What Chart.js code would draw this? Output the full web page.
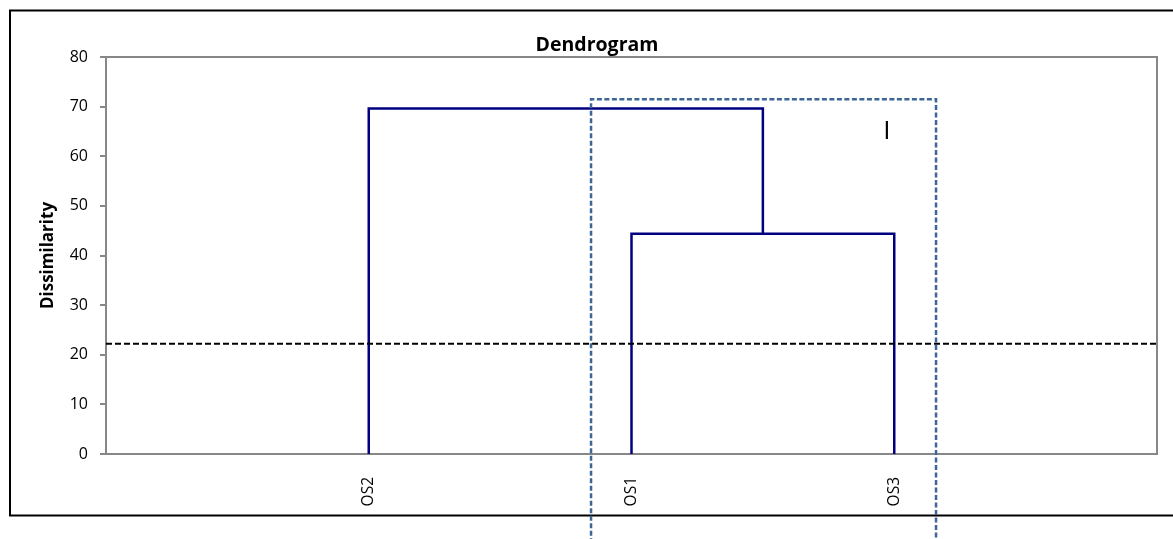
<!DOCTYPE html>
<html><head><meta charset="utf-8">
<script src="https://cdn.jsdelivr.net/npm/chart.js@4.4.0/dist/chart.umd.min.js"></script>
<style>html,body{margin:0;padding:0;background:#fff;overflow:hidden}#wrap{width:1173px;height:539px;position:relative}</style>
</head><body><div id="wrap"><canvas id="c" width="1173" height="539"></canvas></div>
<script>
// ---- data ----
const categories = ['OS2', 'OS1', 'OS3'];
const leafPositions = [1, 2, 3];
const mergeHeights = [44.4, 69.6];      // (OS1,OS3) then (OS2,(OS1,OS3))
const cutLevel = 22.2;
const yTicks = [0, 10, 20, 30, 40, 50, 60, 70, 80];
const xRange = [0, 4];
const clusterBoxX = [1.846, 3.159];
const clusterBoxY = [-18, 71.5];
const clusterLabel = 'I';
const clusterLabelPos = [2.972, 63.5];
const titleText = 'Dendrogram';
const yAxisTitle = 'Dissimilarity';

// ---- build dendrogram links ----
const h0 = mergeHeights[0], h1 = mergeHeights[1];
const mid0 = (leafPositions[1] + leafPositions[2]) / 2;
const linkA = [
  {x: leafPositions[1], y: 0}, {x: leafPositions[1], y: h0},
  {x: leafPositions[2], y: h0}, {x: leafPositions[2], y: 0}
];
const linkB = [
  {x: leafPositions[0], y: 0}, {x: leafPositions[0], y: h1},
  {x: mid0, y: h1}, {x: mid0, y: h0}
];
const cutLine = [{x: xRange[0], y: cutLevel}, {x: xRange[1], y: cutLevel}];
const box = [
  {x: clusterBoxX[0], y: clusterBoxY[0]}, {x: clusterBoxX[0], y: clusterBoxY[1]},
  {x: clusterBoxX[1], y: clusterBoxY[1]}, {x: clusterBoxX[1], y: clusterBoxY[0]}
];

const FONT = "'Open Sans', 'Liberation Sans', sans-serif";
const NAVY = '#000080';
const GRAY = '#878787';

const framePlugin = {
  id: 'frame',
  beforeDraw(chart) {
    const ctx = chart.ctx;
    ctx.save();
    ctx.fillStyle = '#fff';
    ctx.fillRect(0, 0, chart.width, chart.height);
    ctx.strokeStyle = '#000';
    ctx.lineWidth = 2;
    ctx.strokeRect(10, 10.5, 1200, 505);
    ctx.restore();
  },
  beforeDatasetsDraw(chart) {
    const {ctx, chartArea: a} = chart;
    ctx.save();
    ctx.strokeStyle = GRAY;
    ctx.lineWidth = 2;
    ctx.strokeRect(a.left, a.top, a.right - a.left, a.bottom - a.top);
    ctx.restore();
  },
  afterDraw(chart) {
    const ctx = chart.ctx;
    const xs = chart.scales.x, ys = chart.scales.y;
    ctx.save();
    ctx.fillStyle = '#000';
    ctx.font = "bold 19.5px " + FONT;
    ctx.textAlign = 'center';
    ctx.textBaseline = 'middle';
    ctx.fillText(titleText, 597, 45);
    ctx.font = "26px " + FONT;
    ctx.textBaseline = 'alphabetic';
    ctx.fillText(clusterLabel, xs.getPixelForValue(clusterLabelPos[0]), ys.getPixelForValue(clusterLabelPos[1]));
    ctx.restore();
  }
};

const lineDs = (data, extra) => Object.assign({
  data, showLine: true, pointRadius: 0, pointHoverRadius: 0, fill: false,
  borderJoinStyle: 'miter', borderCapStyle: 'butt', tension: 0
}, extra);

new Chart(document.getElementById('c'), {
  type: 'scatter',
  data: {
    datasets: [
      lineDs(box, {borderColor: '#3d6597', borderWidth: 2.5, borderDash: [5, 2.5], clip: false, order: 0}),
      lineDs(cutLine, {borderColor: '#000', borderWidth: 2, borderDash: [6, 3], order: 1}),
      lineDs(linkA, {borderColor: NAVY, borderWidth: 2.5, order: 2}),
      lineDs(linkB, {borderColor: NAVY, borderWidth: 2.5, order: 2})
    ]
  },
  options: {
    responsive: false,
    animation: false,
    devicePixelRatio: 1,
    layout: {padding: {left: 0, right: 16, top: 57, bottom: 0}},
    plugins: {legend: {display: false}, tooltip: {enabled: false}, title: {display: false}},
    scales: {
      x: {
        type: 'linear', min: xRange[0], max: xRange[1],
        afterBuildTicks: s => { s.ticks = leafPositions.map(v => ({value: v})); },
        afterFit: s => { s.height = 85; },
        ticks: {
          autoSkip: false, minRotation: 90, maxRotation: 90, padding: 23, color: '#000',
          font: {family: FONT, size: 15.5},
          callback: v => { const i = leafPositions.indexOf(v); return i >= 0 ? categories[i] : ''; }
        },
        grid: {display: false, drawTicks: false},
        border: {display: true, color: GRAY, width: 2}
      },
      y: {
        type: 'linear', min: yTicks[0], max: yTicks[yTicks.length - 1],
        afterBuildTicks: s => { s.ticks = yTicks.map(v => ({value: v})); },
        afterFit: s => { s.width = 106; },
        ticks: {padding: 12, color: '#000', font: {family: FONT, size: 16}},
        grid: {drawOnChartArea: false, drawTicks: true, tickLength: 6, color: GRAY, lineWidth: 2},
        border: {display: true, color: GRAY, width: 2},
        title: {display: true, text: yAxisTitle, color: '#000',
                font: {family: FONT, size: 17, weight: 'bold'}, padding: {top: 37.5, bottom: 0}}
      }
    }
  },
  plugins: [framePlugin]
});
</script>
</body></html>
